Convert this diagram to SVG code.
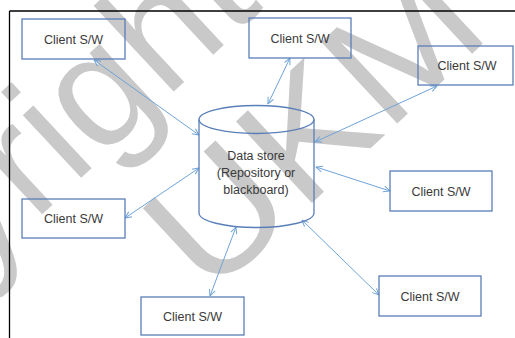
<svg xmlns="http://www.w3.org/2000/svg" width="515" height="338" viewBox="0 0 515 338">
<defs>
<style>
.box{fill:none;stroke:#5a7fb8;stroke-width:1.3}
.lbl{font-family:"Liberation Sans",Arial,sans-serif;font-size:12.5px;fill:#3a3a3a;text-anchor:middle}
.conn{fill:none;stroke:#6fa3d8;stroke-width:1}
.wm{font-family:"Liberation Sans",Arial,sans-serif;font-size:162px;fill:#c9c9c9}
</style>
<marker id="arr" viewBox="0 0 8 8" refX="7.5" refY="4" markerWidth="8" markerHeight="8" markerUnits="userSpaceOnUse" orient="auto-start-reverse">
<path d="M1,1 L7.5,4 L1,7" fill="none" stroke="#6fa3d8" stroke-width="1"/>
</marker>
</defs>
<rect width="515" height="338" fill="#ffffff"/>
<g id="watermark">
<text class="wm" transform="translate(-242.7,480) rotate(-43)">Copyright</text>
<text class="wm" transform="translate(209,299) rotate(-43) scale(1.08,1)">UKM</text>
</g>
<g id="frame" fill="none" stroke="#000" stroke-width="1.3">
<path d="M9.5,11 H515 M9.5,11 V338"/>
</g>
<g id="connectors">
<line class="conn" x1="94" y1="60" x2="199" y2="135" marker-start="url(#arr)" marker-end="url(#arr)"/>
<line class="conn" x1="290" y1="58" x2="268" y2="104" marker-start="url(#arr)" marker-end="url(#arr)"/>
<line class="conn" x1="437" y1="86" x2="315" y2="142" marker-start="url(#arr)" marker-end="url(#arr)"/>
<line class="conn" x1="316" y1="167" x2="390" y2="191" marker-start="url(#arr)" marker-end="url(#arr)"/>
<line class="conn" x1="302" y1="220" x2="379" y2="295" marker-start="url(#arr)" marker-end="url(#arr)"/>
<line class="conn" x1="236" y1="227" x2="210" y2="296" marker-start="url(#arr)" marker-end="url(#arr)"/>
<line class="conn" x1="125" y1="218" x2="199" y2="168" marker-start="url(#arr)" marker-end="url(#arr)"/>
</g>
<g id="datastore">
<path class="box" d="M199,119.5 V213 A57.5,14.5 0 0 0 314,213 V119.5"/>
<ellipse class="box" cx="256.5" cy="119.5" rx="57.5" ry="14"/>
<text class="lbl" x="256" y="160">Data store</text>
<text class="lbl" x="256" y="177">(Repository or</text>
<text class="lbl" x="256" y="194">blackboard)</text>
</g>
<g id="client1"><rect class="box" x="22" y="19" width="103" height="40"/><text class="lbl" x="73.5" y="43.5">Client S/W</text></g>
<g id="client2"><rect class="box" x="249" y="18" width="102" height="40"/><text class="lbl" x="300" y="42.5">Client S/W</text></g>
<g id="client3"><rect class="box" x="418" y="46" width="95" height="39"/><text class="lbl" x="467" y="70">Client S/W</text></g>
<g id="client4"><rect class="box" x="22" y="199" width="103" height="39"/><text class="lbl" x="73.5" y="223">Client S/W</text></g>
<g id="client5"><rect class="box" x="141" y="297" width="103" height="38"/><text class="lbl" x="192.5" y="320.5">Client S/W</text></g>
<g id="client6"><rect class="box" x="390" y="171" width="102" height="40"/><text class="lbl" x="441" y="195.5">Client S/W</text></g>
<g id="client7"><rect class="box" x="379" y="276" width="102" height="40"/><text class="lbl" x="430" y="300.5">Client S/W</text></g>
</svg>
